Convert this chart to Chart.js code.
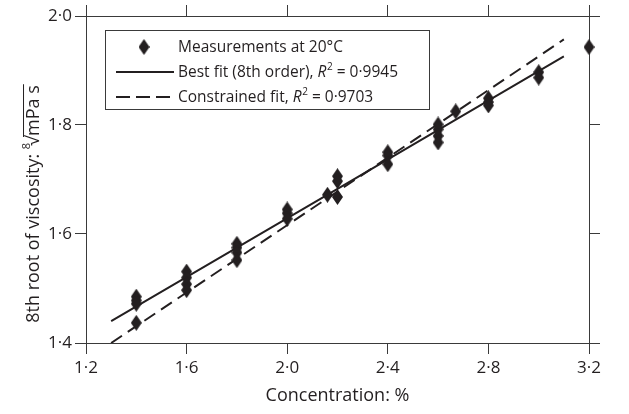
<!DOCTYPE html>
<html>
<head>
    <meta http-equiv="Content-Type" content="text/html; charset=utf-8"/>
    <title>Viscosity vs concentration</title>
    <style>
        body { margin: 0; background: #fff; }
    </style>
</head>
<body>
    <div>
        <canvas id="myChart" width="629" height="414"></canvas>
    </div>
    <script src="https://cdn.jsdelivr.net/npm/chart.js"></script>
    <script>
        // measurements at 20 C
        const measX = [1.4, 1.4, 1.4, 1.4, 1.6, 1.6, 1.6, 1.6, 1.8, 1.8, 1.8, 1.8,
                       2.0, 2.0, 2.0, 2.16, 2.2, 2.2, 2.2, 2.4, 2.4, 2.4,
                       2.6, 2.6, 2.6, 2.6, 2.67, 2.8, 2.8, 2.8, 3.0, 3.0, 3.2];
        const measY = [1.485, 1.478, 1.472, 1.437, 1.531, 1.520, 1.508, 1.497, 1.582, 1.575, 1.566, 1.552,
                       1.645, 1.638, 1.628, 1.672, 1.706, 1.697, 1.668, 1.750, 1.744, 1.728,
                       1.801, 1.792, 1.780, 1.768, 1.825, 1.849, 1.842, 1.836, 1.897, 1.887, 1.943];

        // best fit (8th order) and constrained fit
        const bestX = [1.3, 2.2, 3.1];
        const bestY = [1.440, 1.683, 1.926];
        const consX = [1.3, 2.2, 3.1];
        const consY = [1.400, 1.678, 1.957];

        const xTickVals = [1.2, 1.6, 2.0, 2.4, 2.8, 3.2];
        const yTickVals = [1.4, 1.6, 1.8, 2.0];

        const ink = '#231f20';
        const axisCol = '#3a3a3a';
        const fmt = (v) => Number(v).toFixed(1).replace('.', '\u00b7');

        Chart.defaults.font.family = "'Open Sans', sans-serif";
        Chart.defaults.color = ink;

        // tall diamond marker
        const diamond = document.createElement('canvas');
        diamond.width = 11;
        diamond.height = 16;
        (function () {
            const c = diamond.getContext('2d');
            c.fillStyle = ink;
            c.beginPath();
            c.moveTo(5.5, 0);
            c.lineTo(11, 8);
            c.lineTo(5.5, 16);
            c.lineTo(0, 8);
            c.closePath();
            c.fill();
        })();

        const toPts = (xs, ys) => xs.map((x, i) => ({x: x, y: ys[i]}));

        const gridOpts = {
            drawOnChartArea: false,
            drawTicks: true,
            tickLength: 11,
            tickColor: axisCol,
            tickWidth: 1
        };
        const borderOpts = {color: axisCol, width: 1};

        const legendPlugin = {
            id: 'boxLegend',
            afterDraw(chart) {
                const ctx = chart.ctx;
                ctx.save();
                ctx.fillStyle = '#fff';
                ctx.fillRect(105.5, 30.5, 324, 79);
                ctx.strokeStyle = axisCol;
                ctx.lineWidth = 1;
                ctx.strokeRect(105.5, 30.5, 324, 79);

                const rows = [47, 72, 97];
                const tx = 178;
                const fs = 15.5;
                const normal = fs + "px 'Open Sans', sans-serif";
                const italic = 'italic ' + fs + "px 'Open Sans', sans-serif";
                const small = '10px ' + "'Open Sans', sans-serif";

                ctx.drawImage(diamond, 144 - 5.5, rows[0] - 8);

                ctx.strokeStyle = ink;
                ctx.lineWidth = 2;
                ctx.beginPath();
                ctx.moveTo(116, rows[1]);
                ctx.lineTo(174, rows[1]);
                ctx.stroke();
                ctx.setLineDash([14, 6]);
                ctx.beginPath();
                ctx.moveTo(116, rows[2]);
                ctx.lineTo(174, rows[2]);
                ctx.stroke();
                ctx.setLineDash([]);

                ctx.fillStyle = ink;
                ctx.textBaseline = 'alphabetic';
                ctx.textAlign = 'left';
                const base = (y) => y + 5;

                ctx.font = normal;
                ctx.fillText('Measurements at 20\u00b0C', tx, base(rows[0]));

                const rLine = (y, pre, post) => {
                    let x = tx;
                    ctx.font = normal;
                    ctx.fillText(pre, x, base(y));
                    x += ctx.measureText(pre).width;
                    ctx.font = italic;
                    ctx.fillText('R', x, base(y));
                    x += ctx.measureText('R').width + 0.5;
                    ctx.font = small;
                    ctx.fillText('2', x, base(y) - 7);
                    x += ctx.measureText('2').width;
                    ctx.font = normal;
                    ctx.fillText(post, x, base(y));
                };
                rLine(rows[1], 'Best fit (8th order), ', ' = 0\u00b79945');
                rLine(rows[2], 'Constrained fit, ', ' = 0\u00b79703');
                ctx.restore();
            }
        };

        const yTitlePlugin = {
            id: 'yTitle',
            afterDraw(chart) {
                const ctx = chart.ctx;
                const fs = 18;
                const normal = fs + "px 'Open Sans', sans-serif";
                const small = "11px 'Open Sans', sans-serif";
                const part1 = '8th root of viscosity: ';
                const root = '\u221a';
                const part2 = 'mPa s';
                ctx.save();
                ctx.font = normal;
                const w1 = ctx.measureText(part1).width;
                const wr = ctx.measureText(root).width;
                const w2 = ctx.measureText(part2).width;
                ctx.font = small;
                const ws = ctx.measureText('8').width;
                const total = w1 + ws + wr - 3 + w2;
                ctx.translate(39, 204);
                ctx.rotate(-Math.PI / 2);
                ctx.fillStyle = ink;
                ctx.textBaseline = 'alphabetic';
                ctx.textAlign = 'left';
                let x = -total / 2;
                ctx.font = normal;
                ctx.fillText(part1, x, 0);
                x += w1;
                ctx.font = small;
                ctx.fillText('8', x, -9);
                x += ws - 3;
                ctx.font = normal;
                ctx.fillText(root, x, 0);
                x += wr;
                ctx.fillText(part2, x, 0);
                ctx.strokeStyle = ink;
                ctx.lineWidth = 1;
                ctx.beginPath();
                ctx.moveTo(x - 1, -fs * 0.86);
                ctx.lineTo(x + w2 + 1, -fs * 0.86);
                ctx.stroke();
                ctx.restore();
            }
        };

        const config = {
            type: 'scatter',
            data: {
                datasets: [
                    {
                        label: 'Measurements at 20\u00b0C',
                        data: toPts(measX, measY),
                        pointStyle: diamond,
                        pointRadius: 6,
                        backgroundColor: ink,
                        borderColor: ink,
                        clip: false,
                        order: 0
                    },
                    {
                        label: 'Best fit (8th order)',
                        data: toPts(bestX, bestY),
                        showLine: true,
                        pointRadius: 0,
                        borderColor: ink,
                        borderWidth: 2,
                        order: 1
                    },
                    {
                        label: 'Constrained fit',
                        data: toPts(consX, consY),
                        showLine: true,
                        pointRadius: 0,
                        borderColor: ink,
                        borderWidth: 2,
                        borderDash: [13, 7],
                        order: 2
                    }
                ]
            },
            options: {
                responsive: false,
                animation: false,
                devicePixelRatio: 1,
                layout: {padding: 0},
                plugins: {
                    legend: {display: false},
                    tooltip: {enabled: false}
                },
                scales: {
                    x: {
                        type: 'linear',
                        position: 'bottom',
                        min: 1.2,
                        max: 3.2,
                        afterBuildTicks: (s) => { s.ticks = xTickVals.map(v => ({value: v})); },
                        afterFit: (s) => { s.height = 71; },
                        ticks: {callback: fmt, font: {size: 17}, color: ink, padding: 4, maxRotation: 0, autoSkip: false},
                        grid: gridOpts,
                        border: borderOpts,
                        title: {
                            display: true,
                            text: 'Concentration: %',
                            font: {size: 18},
                            color: ink,
                            padding: {top: 0, bottom: 7}
                        }
                    },
                    xTop: {
                        type: 'linear',
                        position: 'top',
                        min: 1.2,
                        max: 3.2,
                        afterBuildTicks: (s) => { s.ticks = xTickVals.map(v => ({value: v})); },
                        afterFit: (s) => { s.height = 16; },
                        ticks: {display: false},
                        grid: gridOpts,
                        border: borderOpts
                    },
                    y: {
                        type: 'linear',
                        position: 'left',
                        min: 1.4,
                        max: 2.0,
                        afterBuildTicks: (s) => { s.ticks = yTickVals.map(v => ({value: v})); },
                        afterFit: (s) => { s.width = 86; },
                        ticks: {callback: fmt, font: {size: 17}, color: ink, padding: 3, autoSkip: false},
                        grid: gridOpts,
                        border: borderOpts
                    },
                    yRight: {
                        type: 'linear',
                        position: 'right',
                        min: 1.4,
                        max: 2.0,
                        afterBuildTicks: (s) => { s.ticks = yTickVals.map(v => ({value: v})); },
                        afterFit: (s) => { s.width = 40; },
                        ticks: {display: false},
                        grid: gridOpts,
                        border: borderOpts
                    }
                }
            },
            plugins: [legendPlugin, yTitlePlugin]
        };

        const myChart = new Chart(document.getElementById('myChart'), config);
    </script>
</body>
</html>
